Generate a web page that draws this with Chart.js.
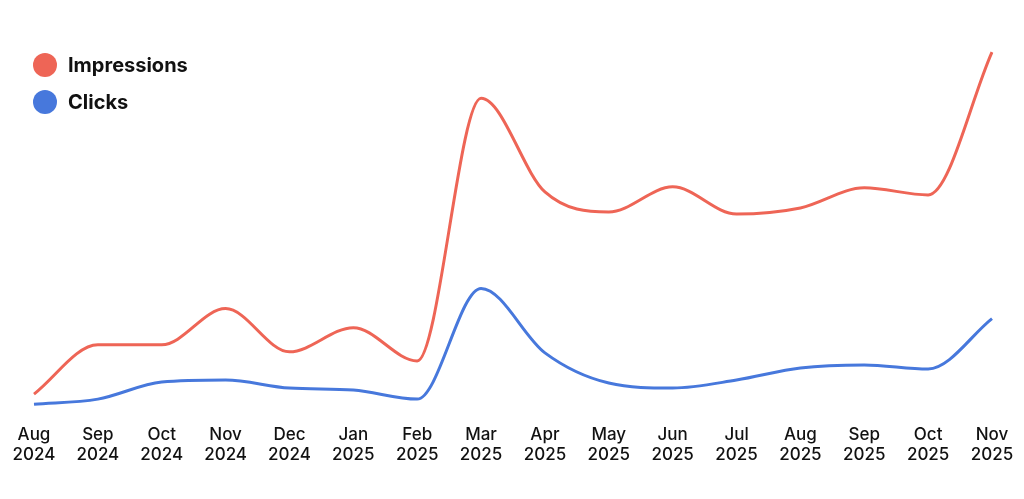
<!DOCTYPE html>
<html>
<head>
<meta charset="utf-8">
<script src="https://cdn.jsdelivr.net/npm/chart.js@4.4.1/dist/chart.umd.min.js"></script>
<style>
  html, body { margin: 0; padding: 0; background: #fff; }
  #wrap { position: relative; width: 1024px; height: 499px; }
  #legend { position: absolute; left: 33px; top: 52px; font-family: Inter, sans-serif; font-weight: 700; font-size: 20px; color: #111; }
  .item { display: flex; align-items: center; height: 26px; margin-bottom: 11px; }
  .dot { width: 24px; height: 24px; border-radius: 50%; margin-right: 11px; }
</style>
</head>
<body>
<div id="wrap">
  <canvas id="chart" width="1024" height="499"></canvas>
  <div id="legend"></div>
</div>
<script>
const months = ['Aug', 'Sep', 'Oct', 'Nov', 'Dec', 'Jan', 'Feb', 'Mar', 'Apr', 'May', 'Jun', 'Jul', 'Aug', 'Sep', 'Oct', 'Nov'];
const years = ['2024', '2024', '2024', '2024', '2024', '2025', '2025', '2025', '2025', '2025', '2025', '2025', '2025', '2025', '2025', '2025'];
const impressions = [18, 67, 67, 103, 60, 84, 51, 312, 219, 199, 224, 197, 203, 223, 216, 358];
const clicks = [8, 13, 30, 32, 24, 22, 13, 123, 59, 29, 24, 32, 44, 47, 43, 93];

const RED = '#ee6556';
const BLUE = '#4778dc';

const labels = months.map((m, i) => [m, years[i]]);

const chart = new Chart(document.getElementById('chart'), {
    type: 'line',
    data: {
        labels: labels,
        datasets: [
            { label: 'Impressions', data: impressions, borderColor: RED, backgroundColor: RED },
            { label: 'Clicks', data: clicks, borderColor: BLUE, backgroundColor: BLUE }
        ]
    },
    options: {
        responsive: false,
        animation: false,
        layout: { padding: { left: 34, right: 32, top: 40, bottom: 30 } },
        elements: {
            line: { borderWidth: 3, cubicInterpolationMode: 'monotone', fill: false },
            point: { radius: 0, hoverRadius: 0 }
        },
        plugins: {
            legend: { display: false },
            tooltip: { enabled: false }
        },
        scales: {
            x: {
                grid: { display: false },
                border: { display: false },
                ticks: {
                    color: '#111',
                    font: { family: 'Inter', size: 17, weight: '500' },
                    padding: 4,
                    maxRotation: 0,
                    autoSkip: false
                }
            },
            y: { display: false, min: 0, max: 370 }
        }
    }
});

// legend drawn as html from the chart's datasets
const legendEl = document.getElementById('legend');
chart.data.datasets.forEach(ds => {
    const item = document.createElement('div');
    item.className = 'item';
    const dot = document.createElement('span');
    dot.className = 'dot';
    dot.style.background = ds.borderColor;
    const txt = document.createElement('span');
    txt.textContent = ds.label;
    item.appendChild(dot);
    item.appendChild(txt);
    legendEl.appendChild(item);
});
</script>
</body>
</html>
